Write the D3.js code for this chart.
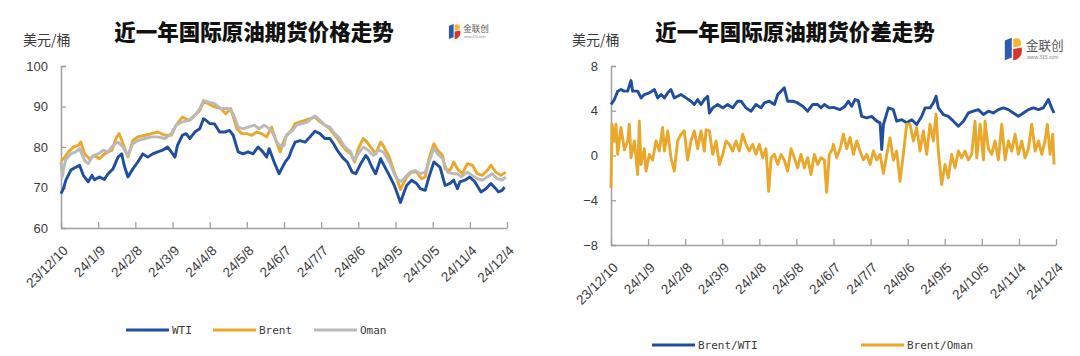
<!DOCTYPE html>
<html><head><meta charset="utf-8">
<script src="https://cdn.jsdelivr.net/npm/d3@7/dist/d3.min.js"></script>
<style>
html,body{margin:0;padding:0;background:#fff;}
svg{display:block;}
</style></head>
<body>
<svg id="c" width="1080" height="356"></svg>
<script>
// ---------------- DATA ----------------
const startDate = "2023-12-10";
const endDate = "2024-12-04";
const tickLabels = ["23/12/10","24/1/9","24/2/8","24/3/9","24/4/8","24/5/8","24/6/7","24/7/7","24/8/6","24/9/5","24/10/5","24/11/4","24/12/4"];

const titleLeft = "近一年国际原油期货价格走势";
const titleRight = "近一年国际原油期货价差走势";
const unitLabel = "美元/桶";

const leftYTicks = [60,70,80,90,100];
const rightYTicks = [-8,-4,0,4,8];

const leftSeriesNames = ["WTI","Brent","Oman"];
const rightSeriesNames = ["Brent/WTI","Brent/Oman"];

// [day offset from startDate, value]
const wti = [[0,68.5],[2,69.7],[4,71.9],[8,74.3],[12,75],[15,75.5],[18,73],[22,71.4],[25,73],[27,71.9],[31,72.6],[35,72],[38,73.4],[42,74.6],[46,77.5],[49,78.3],[51,75.5],[54,72.6],[58,74.6],[62,76.3],[66,78.3],[70,77.5],[74,78.3],[78,78.8],[82,79.2],[86,80],[89,78.8],[92,77.5],[94,80.4],[98,82.9],[101,83.3],[104,82.1],[108,83.7],[112,84.5],[115,87],[117,86.6],[120,85.8],[124,85.7],[128,83.7],[132,83.7],[136,84.1],[139,82.9],[143,78.8],[147,78.3],[151,78.8],[155,78.3],[159,80],[163,78.8],[166,77.5],[168,79.6],[172,76.3],[176,73.4],[178,74.6],[181,76.3],[184,77.5],[186,79.2],[189,81.2],[193,81.6],[197,81.2],[201,82.5],[205,83.9],[209,83.3],[213,82.1],[217,82.1],[220,80.8],[223,79.2],[227,77.5],[231,76.3],[235,73.8],[238,73.4],[242,75.9],[246,77.9],[248,77.1],[251,75],[254,73.4],[258,77.1],[260,75.9],[265,73],[269,70.5],[271,68.9],[274,66.3],[277,68.9],[279,70.5],[283,71.8],[287,71],[290,69.7],[294,69.3],[297,72.6],[301,76.3],[304,75.5],[306,75],[310,70.5],[314,71],[317,71.8],[320,69.7],[322,71.4],[326,71.8],[330,72.6],[334,71.4],[339,68.9],[343,69.7],[347,71],[351,69.7],[353,68.9],[356,69.3],[358,70.1]];

const brent = [[0,76.5],[2,77.1],[6,78.8],[10,80],[14,80.4],[16,81.2],[19,78.3],[23,77.1],[27,77.9],[31,77.1],[35,78.3],[41,79.2],[45,82.5],[47,83.3],[51,80],[54,77.5],[58,81.6],[62,82.5],[68,82.9],[73,83.3],[78,83.7],[84,82.9],[89,82.9],[93,85.4],[98,87.4],[103,86.6],[108,87.8],[112,89.1],[115,91.1],[119,90.7],[124,89.9],[129,89.5],[133,88.2],[137,89.5],[142,84.5],[146,83.3],[150,83.3],[154,82.9],[158,83.7],[162,83.3],[166,82.5],[170,84.9],[174,81.2],[177,78.8],[179,80.8],[182,82.9],[186,84.1],[189,85.8],[193,86.2],[197,86.6],[201,87],[205,87.4],[209,86.2],[213,85.4],[217,84.5],[221,82.9],[226,80.8],[230,79.2],[234,78.3],[237,76.3],[240,79.6],[244,82.1],[247,81.2],[250,80],[254,78.3],[258,81.2],[260,80.4],[265,77.5],[269,73.8],[271,72.2],[274,69.5],[277,71.4],[279,72.6],[283,73.8],[287,73.8],[291,72.2],[294,72.6],[297,77.1],[301,80.8],[304,79.2],[308,77.9],[310,74.6],[314,74.2],[317,76.3],[320,74.6],[324,73.4],[328,75.9],[332,75.5],[336,73.4],[340,73],[344,74.2],[347,75.5],[351,73.8],[355,73],[359,73.8]];

const oman = [[0,76.3],[1,72.6],[2,74.6],[4,77],[8,78.3],[12,78.8],[15,79.6],[19,76.7],[22,75.9],[26,77.9],[30,78.3],[34,79.2],[38,78.8],[42,80.4],[46,81.2],[50,80],[54,77.9],[58,80.8],[62,81.6],[68,82.1],[73,82.5],[78,82.5],[84,82.1],[89,83.3],[93,85.4],[98,86.2],[104,86.6],[108,87.8],[112,89.5],[115,91.5],[119,91.1],[124,90.7],[129,89.5],[135,89.5],[139,88.2],[143,84.9],[147,84.5],[151,84.9],[156,85.4],[160,84.5],[164,85.4],[170,84.1],[174,81.2],[178,80],[180,80.4],[182,82.9],[187,84.1],[190,85.4],[195,85.8],[199,86.2],[202,87],[205,87.7],[209,86.6],[213,85.4],[217,84.9],[221,83.3],[225,82.1],[229,80],[234,78.8],[236,76.7],[240,78.3],[244,80],[248,79.2],[252,77.9],[256,79.2],[260,78.8],[265,76.3],[269,73.4],[271,72.2],[274,71.4],[278,72.6],[282,73.8],[286,74.2],[290,73.4],[294,73.8],[298,77.1],[301,79.6],[304,78.3],[308,77.1],[312,73.8],[316,73.4],[320,73.4],[323,72.6],[328,73.8],[332,73],[336,72.2],[340,71.8],[344,72.6],[348,73.4],[352,72.2],[356,71.8],[359,72.6]];

const brentWti = [[0,4.56],[2.7,5.0],[5.4,5.75],[8.1,5.9],[10.8,5.75],[13.5,5.75],[16.2,6.7],[17.5,5.75],[21.6,5.75],[24.3,5.15],[27,5.45],[31,5.6],[35.1,5.9],[37.8,5.15],[40.5,5.45],[43.2,5.15],[45.9,5.6],[48.5,5.9],[51.2,5.15],[53.9,5.3],[56.6,5.45],[60.7,5.15],[64.7,4.85],[67.4,4.56],[70.1,5.0],[72.8,4.56],[75.5,5.0],[78.2,5.3],[79.6,3.8],[82.3,4.26],[86.3,4.56],[90.4,4.26],[94.4,4.56],[98.4,4.26],[102.5,4.85],[105.2,4.85],[109.2,4.26],[113.3,3.96],[117.3,4.56],[121.4,4.26],[124.1,4.7],[128.1,4.85],[132.2,4.56],[134.9,5.45],[137.5,5.75],[140.2,6.05],[142.9,4.85],[147,4.85],[151,4.7],[155.1,4.4],[159.1,3.96],[163.2,4.56],[167.2,4.56],[169.9,4.26],[172.6,4.56],[176.6,4.26],[179.9,4.3],[181.2,4.26],[185.3,4.1],[189.3,4.4],[192,4.85],[194.7,4.4],[197.4,5.0],[200.1,4.9],[202.8,3.5],[206.9,3.37],[210.9,3.5],[215,3.07],[217.7,2.92],[219,0.54],[220.4,2.77],[224.4,4.26],[228.4,4.1],[231.1,3.07],[235.2,3.2],[239.2,2.92],[243.3,3.2],[247.3,2.77],[251.4,3.5],[254.1,4.26],[258.1,4.26],[260.8,4.7],[263,5.3],[264.8,4.26],[268.9,3.66],[272.9,3.5],[277,3.07],[281,2.62],[285.1,3.07],[289.1,3.8],[293.2,3.96],[297.2,4.1],[301.3,3.66],[305.3,3.96],[309.3,3.8],[313.4,4.1],[317.4,4.26],[321.5,4.1],[325.5,3.8],[329.6,3.5],[333.6,3.8],[337.7,4.1],[341.7,4.26],[345.8,4.1],[349.8,4.26],[353.8,5.0],[356.5,4.26],[358.4,3.8]];

const brentOman = [[0,-2.9],[0.8,2.8],[2.7,1.3],[4,2.8],[5.4,0.1],[8.1,2.5],[10.8,0.5],[13.5,1.3],[14.8,2.8],[16.2,-0.2],[18.9,1.3],[21.6,-1.7],[22.9,3.07],[24.3,-0.8],[27,0.6],[28.3,-1.4],[31,0.1],[33.7,-0.4],[36.4,1.3],[39.1,0.4],[41.8,2.5],[43.2,0.4],[45.9,2.2],[48.5,-0.2],[51.2,-1.4],[53.9,1.3],[56.6,1.9],[59.3,2.2],[62,-0.4],[64.7,1.3],[67.4,2.2],[70.1,0.6],[72.8,2.2],[75.5,0.4],[76.9,2.3],[79.6,2.2],[82.3,0.1],[85,1.3],[87.7,-0.8],[90.4,0.1],[93.1,1.3],[95.7,1.0],[98.4,0.4],[101.1,1.3],[103.8,0.4],[106.5,1.9],[109.2,1.0],[111.9,0.4],[114.6,1.0],[117.3,0.1],[120,1.0],[122.7,-0.2],[125.4,0.6],[127.6,-3.2],[129.5,-0.2],[132.2,0.1],[134.9,-0.8],[137.5,0.1],[140.2,-0.4],[142.9,-1.4],[145.6,0.6],[148.3,-0.2],[151,-1.1],[153.7,0.1],[156.4,-1.1],[159.1,-0.2],[161.8,-1.7],[164.5,0.1],[167.2,-0.8],[169.9,-0.2],[172.6,-0.4],[174.5,-3.3],[176.6,0.1],[179.3,0.6],[179.9,1.0],[182.6,-0.2],[185.3,0.6],[188,1.9],[190.7,0.6],[193.4,1.6],[196.1,0.1],[198.8,1.3],[201.5,0.4],[204.2,-0.4],[206.9,0.1],[209.6,-0.8],[212.3,0.4],[215,-0.4],[217.7,0.1],[220.4,-1.6],[223.1,0.1],[225.7,1.6],[228.4,-0.4],[231.1,0.4],[233.8,-2.3],[236.5,0.1],[239.2,2.8],[241.9,2.8],[244.6,1.3],[247.3,2.5],[250,0.4],[252.7,2.2],[255.4,0.1],[258.1,2.8],[260.8,1.3],[263,3.7],[264.8,0.4],[267.5,-2.6],[270.2,-0.8],[272.9,-2.0],[275.6,0.1],[278.3,-1.1],[281,0.4],[283.7,-0.2],[286.4,0.4],[289.1,-0.4],[291.8,0.1],[294.5,3.07],[295.9,-0.2],[298.6,2.8],[301.3,-0.4],[302.6,3.07],[305.3,0.6],[308,0.1],[310.7,1.3],[313.4,-0.4],[316.1,2.8],[318.8,-0.4],[321.5,1.3],[324.2,0.4],[326.9,1.9],[329.6,0.1],[332.3,1.3],[335,-0.2],[337.7,0.6],[340.4,2.8],[343.1,0.4],[345.8,1.3],[348.5,0.1],[351.1,1.3],[353,2.8],[355.2,0.1],[357.4,1.9],[358.4,-0.8]];

// ---------------- STYLE ----------------
const COLORS = {blue:"#1f4e9e", orange:"#e9a82b", gray:"#bababa", axis:"#a0a0a0", text:"#3a3a3a"};

const svg = d3.select("#c");
svg.append("rect").attr("width",1080).attr("height",356).attr("fill","#fff");

const parseISO = d3.timeParse("%Y-%m-%d");
const parseTick = d3.timeParse("%y/%m/%d");
const t0 = parseISO(startDate), t1 = parseISO(endDate);
const dayToDate = d => new Date(t0.getTime() + d*86400000);
const tickDates = tickLabels.map(parseTick);

function drawLogo(g, x, y, s){
  const L = g.append("g").attr("transform",`translate(${x},${y}) scale(${s})`);
  L.append("path").attr("d","M2,4 L7,2 L7,16 L2,18 Z").attr("fill","#2a5db0");
  L.append("path").attr("d","M8,3 C12,1 15,4 13,8 L8,9 Z").attr("fill","#f2b630");
  L.append("path").attr("d","M8,10 L14,9 C15,14 12,18 8,18 Z").attr("fill","#d9342b");
  L.append("text").attr("x",17).attr("y",11).attr("font-family","'Noto Sans CJK SC'").attr("font-size",9).attr("fill","#555").text("金联创");
  L.append("text").attr("x",18).attr("y",17).attr("font-family","Arial, 'Liberation Sans'").attr("font-size",3.6).attr("fill","#888").text("www.315.com");
}

function drawChart(cfg){
  const g = svg.append("g");
  const x = d3.scaleTime().domain([t0,t1]).range([cfg.x0,cfg.x1]);
  const y = d3.scaleLinear().domain(cfg.yDomain).range([cfg.yBottom,cfg.yTop]);

  // title
  g.append("text").attr("x",cfg.titleX).attr("y",40).attr("text-anchor","middle")
    .attr("font-family","'Noto Sans CJK SC'").attr("font-weight",900).attr("font-size",21.5)
    .attr("fill","#111").text(cfg.title);
  // unit
  g.append("text").attr("x",cfg.unitX).attr("y",45)
    .attr("font-family","'Noto Sans CJK SC'").attr("font-size",14).attr("fill",COLORS.text).text(unitLabel);

  // y axis
  const ya = g.append("g").attr("transform",`translate(${cfg.x0},0)`)
    .call(d3.axisLeft(y).tickValues(cfg.yTicks).tickSize(-5).tickPadding(13).tickFormat(d3.format("d")));
  ya.select(".domain").attr("stroke",COLORS.axis).attr("stroke-width",1.5);
  ya.selectAll(".tick line").attr("stroke",COLORS.axis).attr("stroke-width",1.3);
  ya.selectAll(".tick text").attr("font-family","Arial, 'Liberation Sans'").attr("font-size",13).attr("fill",COLORS.text);

  // x axis
  const xa = g.append("g").attr("transform",`translate(0,${cfg.yBottom})`)
    .call(d3.axisBottom(x).tickValues(tickDates).tickSize(-6).tickSizeOuter(0).tickFormat(""));
  xa.select(".domain").attr("stroke",COLORS.axis).attr("stroke-width",1.5);
  xa.selectAll(".tick line").attr("stroke",COLORS.axis).attr("stroke-width",1.3);
  xa.selectAll(".tick").append("text")
    .attr("transform","translate(4,20) rotate(-45)")
    .attr("text-anchor","end").attr("dy","0.35em")
    .attr("font-family","Arial, 'Liberation Sans'").attr("font-size",13.5).attr("fill",COLORS.text)
    .text((d,i)=>tickLabels[i]);

  // lines
  const line = d3.line().x(d=>x(dayToDate(d[0]))).y(d=>y(d[1]));
  cfg.series.forEach(s=>{
    g.append("path").datum(s.data).attr("d",line).attr("fill","none")
      .attr("stroke",s.color).attr("stroke-width",2.9).attr("stroke-linejoin","round");
  });

  // legend
  cfg.series.forEach((s,i)=>{
    const lx = cfg.legendX[i];
    g.append("line").attr("x1",lx).attr("x2",lx+43).attr("y1",cfg.legendY).attr("y2",cfg.legendY)
      .attr("stroke",s.color).attr("stroke-width",3);
    g.append("text").attr("x",lx+46).attr("y",cfg.legendY).attr("dy","0.35em")
      .attr("font-family","'DejaVu Sans Mono', 'Liberation Mono', monospace").attr("font-size",11)
      .attr("fill",COLORS.text).text(s.name);
  });

  drawLogo(g, cfg.logoX, cfg.logoY, cfg.logoS);
}

drawChart({
  x0:61, x1:507, yTop:66, yBottom:228, yDomain:[60,100], yTicks:leftYTicks,
  title:titleLeft, titleX:254, unitX:23,
  series:[
    {name:leftSeriesNames[0], data:wti, color:COLORS.blue},
    {name:leftSeriesNames[1], data:brent, color:COLORS.orange},
    {name:leftSeriesNames[2], data:oman, color:COLORS.gray}
  ],
  legendX:[126,213,314], legendY:330,
  logoX:447, logoY:22, logoS:0.95
});

drawChart({
  x0:611, x1:1056, yTop:66, yBottom:245, yDomain:[-8,8], yTicks:rightYTicks,
  title:titleRight, titleX:795, unitX:572,
  series:[
    {name:rightSeriesNames[0], data:brentWti, color:COLORS.blue},
    {name:rightSeriesNames[1], data:brentOman, color:COLORS.orange}
  ],
  legendX:[652,861], legendY:345,
  logoX:1002, logoY:35, logoS:1.4
});
</script>
</body></html>
